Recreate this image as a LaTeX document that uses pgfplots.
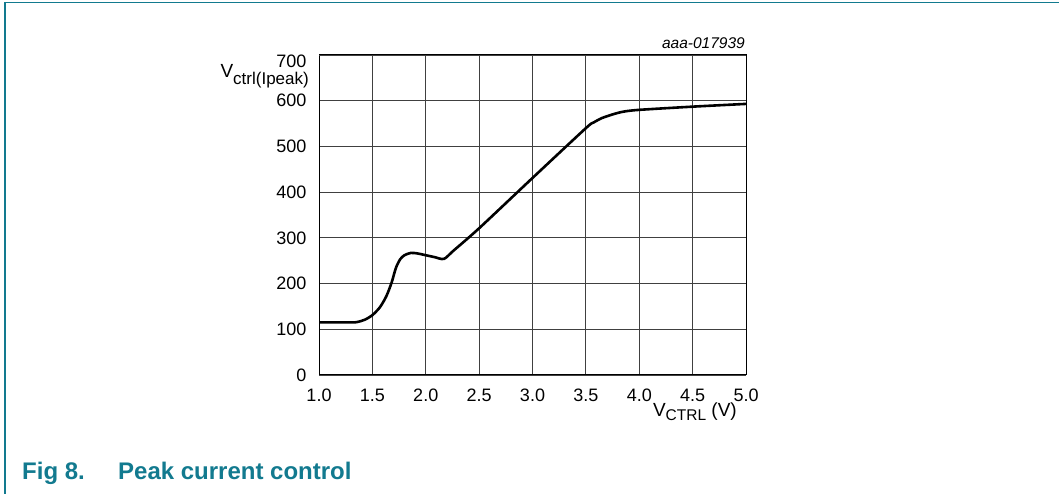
\documentclass[border=0pt]{standalone}
\usepackage{fontspec}
\setmainfont{Liberation Sans}
\usepackage{pgfplots}
\pgfplotsset{compat=1.18}
\definecolor{nxpteal}{RGB}{18,122,143}
\newcommand{\tf}[1]{{\fontsize{18bp}{21bp}\selectfont #1}}
\newcommand{\labfont}{\fontsize{19bp}{22bp}\selectfont}
\begin{document}
\begin{tikzpicture}[x=1bp,y=1bp]
  \path[use as bounding box, fill=white] (0,0) rectangle (1059,494);
  % frame of the figure
  \draw[nxpteal, line width=1.3bp] (5,0) -- (5,491.5) -- (1059,491.5);

  \begin{axis}[
      at={(319bp,119bp)}, anchor=south west,
      scale only axis,
      width=427bp, height=320bp,
      xmin=1, xmax=5, ymin=0, ymax=700,
      xtick={1,1.5,...,5},
      xticklabels={\tf{1.0},\tf{1.5},\tf{2.0},\tf{2.5},\tf{3.0},\tf{3.5},\tf{4.0},\tf{4.5},\tf{5.0}},
      ytick={0,100,...,600},
      yticklabels={\tf{0},\tf{100},\tf{200},\tf{300},\tf{400},\tf{500},\tf{600}},
      extra y ticks={700},
      extra y tick labels={\tf{700}},
      extra y tick style={yticklabel style={yshift=-6bp}},
      major tick length=0pt,
      grid=major,
      major grid style={black!75, line width=0.9bp},
      axis line style={black, line width=1bp},
      xticklabel style={anchor=base, inner sep=0pt, yshift=-26.5bp},
      yticklabel style={anchor=east, inner sep=0pt, xshift=-12.5bp},
    ]
    \addplot[black, line width=2.6bp, smooth, tension=0.45] coordinates {
      (1.00,115) (1.30,115) (1.36,116) (1.43,121) (1.50,131) (1.57,148)
      (1.63,172) (1.68,202) (1.72,234) (1.76,253) (1.80,262) (1.86,267)
      (1.92,266) (2.00,262) (2.08,258) (2.17,254) (2.26,272) (2.50,321)
      (3.00,431) (3.50,540) (3.57,552) (3.65,562) (3.75,570) (3.85,576)
      (4.00,580) (4.50,587) (5.00,593)
    };
  \end{axis}

  % axis labels and figure id
  \node[anchor=base east, inner sep=0pt] at (309,416)
    {\labfont V\raisebox{-6.5bp}{\fontsize{17bp}{20bp}\selectfont ctrl(Ipeak)}};
  \node[anchor=base east, inner sep=0pt] at (737,77)
    {\labfont V\raisebox{-4bp}{\fontsize{15.5bp}{18bp}\selectfont CTRL} (V)};
  \node[anchor=base east, inner sep=0pt] at (745,445)
    {\fontsize{15.5bp}{18bp}\selectfont\itshape aaa-017939};

  % caption
  \node[anchor=base west, inner sep=0pt, text=nxpteal] at (22,14)
    {\fontsize{24bp}{28bp}\selectfont\bfseries Fig 8.};
  \node[anchor=base west, inner sep=0pt, text=nxpteal] at (118,14)
    {\fontsize{24bp}{28bp}\selectfont\bfseries Peak current control};
\end{tikzpicture}
\end{document}
